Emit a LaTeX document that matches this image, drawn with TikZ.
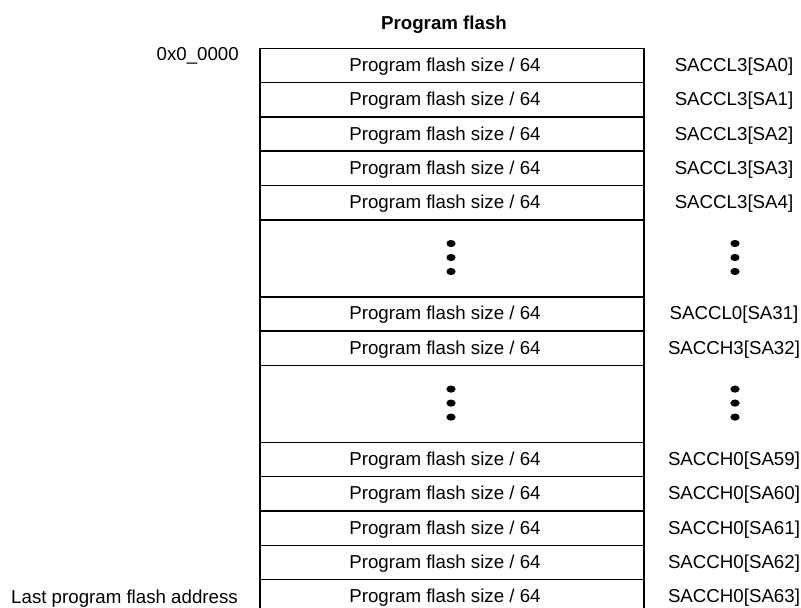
\documentclass[tikz,border=0pt]{standalone}
\usepackage{fontspec}
\setmainfont{Liberation Sans}
\begin{document}
\begin{tikzpicture}[x=1pt,y=-1pt,
  cell/.style={draw=black, line width=1.5pt, minimum width=384pt, inner sep=0pt, anchor=north west},
  txt/.style={font=\fontsize{18.7}{22}\selectfont, inner sep=0pt, anchor=base},
  addr/.style={font=\fontsize{18.7}{22}\selectfont, inner sep=0pt, anchor=base east},
  ttl/.style={font=\fontsize{18.7}{22}\selectfont\bfseries, inner sep=0pt, anchor=base},
  vdot/.style={fill=black}]
\useasboundingbox (0,0) rectangle (801,608);
\clip (0,0) rectangle (801,608);

\node[ttl] (title) at (444,29) {Program flash};
\node[addr] (start) at (239,60) {0x0\_0000};
\node[addr] (last) at (238,603.5) {Last program flash address};

% normal rows
\foreach \n/\t/\lab in {
  r0/47.5/{SACCL3[SA0]},
  r1/81.8/{SACCL3[SA1]},
  r2/116.1/{SACCL3[SA2]},
  r3/150.4/{SACCL3[SA3]},
  r4/184.7/{SACCL3[SA4]},
  r31/296/{SACCL0[SA31]},
  r32/330.3/{SACCH3[SA32]},
  r59/441.6/{SACCH0[SA59]},
  r60/475.9/{SACCH0[SA60]},
  r61/510.2/{SACCH0[SA61]},
  r62/544.5/{SACCH0[SA62]},
  r63/578.8/{SACCH0[SA63]}}{
  \node[cell, minimum height=34.3pt] (\n) at (259,\t) {};
  \node[txt] (\n-t) at (445,{\t+23.9}) {Program flash size / 64};
  \node[txt] (\n-l) at (734,{\t+23.9}) {\lab};
}

% ellipsis rows
\foreach \n/\t in {d1/219, d2/364.6}{
  \node[cell, minimum height=77pt] (\n) at (259,\t) {};
  \foreach \k in {-14,0,14}{
    \fill[vdot] (451,{\t+38.5+\k}) ellipse [x radius=4.6pt, y radius=3.6pt];
    \fill[vdot] (735,{\t+38.5+\k}) ellipse [x radius=4.6pt, y radius=3.6pt];
  }
}
\end{tikzpicture}
\end{document}
